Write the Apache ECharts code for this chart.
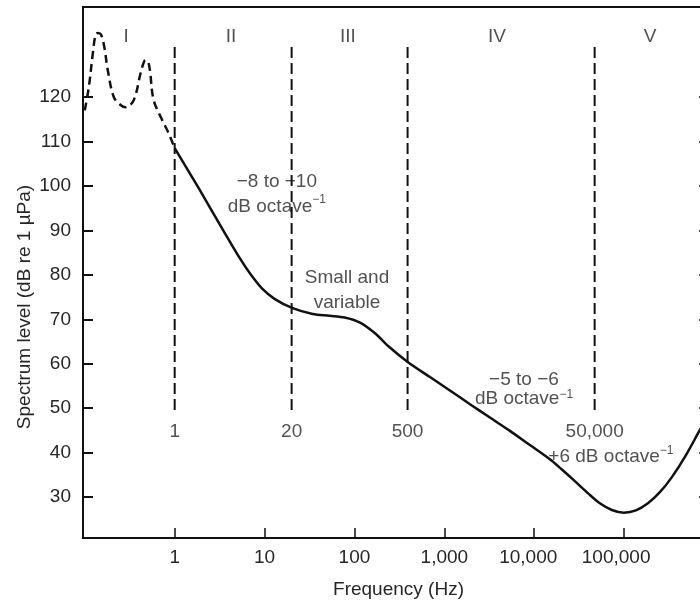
<!DOCTYPE html>
<html><head><meta charset="utf-8">
<script src="https://cdn.jsdelivr.net/npm/echarts@6/dist/echarts.min.js"></script>
<style>html,body{margin:0;padding:0;background:#fff}#c{width:700px;height:605px}</style>
</head><body><div id="c"></div>
<script>
// Region I (dashed) — frequency (Hz) and level (dB re 1 µPa)
const dashedFreq  = [0.1, 0.111, 0.123, 0.132, 0.14, 0.152, 0.165, 0.18, 0.21, 0.25, 0.285, 0.35, 0.418, 0.46, 0.49, 0.526, 0.58, 0.7, 0.85, 1];
const dashedLevel = [117, 122.3, 129.9, 134.1, 134.4, 134.0, 131.2, 126.1, 120, 118.2, 117.7, 119.3, 125.4, 128.1, 128.3, 126.5, 119.5, 115.5, 112, 108.5];
// Main spectrum (solid)
const solidFreq  = [1, 1.9, 3.16, 5.28, 6.83, 9.29, 12.9, 20.5, 34.3, 53, 77.8, 114, 168, 246,
  391, 692, 1153, 1928, 3215, 5370, 8950, 14930, 20300, 28300, 39500, 53700, 73100, 99500, 135300, 184000, 250000, 340000, 486000, 696000, 1000000];
const solidLevel = [108.5, 99.1, 91.4, 83.8, 80.4, 77.0, 74.6, 72.5, 71.2, 70.8, 70.4, 69.3, 66.9, 63.7,
  60.4, 57.0, 54.0, 50.9, 47.9, 44.9, 41.7, 38.5, 36.2, 33.6, 30.9, 28.6, 27.1, 26.5, 27.0, 28.6, 31.1, 34.5, 39.4, 45.1, 50.7];
// Axis ticks
const xTickValues = [1, 10, 100, 1000, 10000, 100000];
const yTickValues = [30, 40, 50, 60, 70, 80, 90, 100, 110, 120];
// Region boundaries (dashed verticals) and their labels
const boundaryFreq   = [1, 20, 390, 47000];
const boundaryLabels = ['1', '20', '500', '50,000'];
const boundaryTop = 131.25, boundaryBottom = 48.9;
// Region names
const regionNames = ['I', 'II', 'III', 'IV', 'V'];
const regionFreq  = [0.288, 4.23, 84.7, 3850, 194000];
const regionLevel = 133.5;
// Slope annotations
const noteTexts = ['{a|−8 to −10}\n{a|dB octave}{s|−1}', '{a|Small and}\n{a|variable}', '{b|−5 to −6}\n{b|dB octave}{t|−1}', '{a|+6 dB octave}{s|−1}'];
const noteFreq  = [13.7, 82.6, 7690, 71300];
const noteLevel = [98.2, 76.6, 54.3, 39.0];

const FONT = "'Liberation Sans', Arial, sans-serif";
const TXT = '#262626', LINE = '#111';

const chart = echarts.init(document.getElementById('c'), null, {renderer: 'canvas'});
const zip = (a, b) => a.map((v, i) => [v, b[i]]);

const annotationData = [];
regionNames.forEach((t, i) => annotationData.push({value: [regionFreq[i], regionLevel], label: {formatter: '{a|' + t + '}'}}));
boundaryLabels.forEach((t, i) => annotationData.push({value: [boundaryFreq[i], 44.65], label: {formatter: '{a|' + t + '}'}}));
noteTexts.forEach((t, i) => annotationData.push({value: [noteFreq[i], noteLevel[i]], label: {formatter: t}}));

const series = [
  {type: 'line', data: zip(dashedFreq, dashedLevel), smooth: 0.35, symbol: 'none', silent: true,
   lineStyle: {color: LINE, width: 2.5, type: [8, 5]}},
  {type: 'line', data: zip(solidFreq, solidLevel), smooth: 0.3, symbol: 'none', silent: true,
   lineStyle: {color: LINE, width: 2.5}}
];
boundaryFreq.forEach(f => series.push({type: 'line', symbol: 'none', silent: true,
  data: [[f, boundaryTop], [f, boundaryBottom]], lineStyle: {color: LINE, width: 2, type: [11, 5]}}));
series.push({type: 'scatter', symbolSize: 0, silent: true, data: annotationData,
  label: {show: true, position: 'inside', color: TXT, align: 'center', verticalAlign: 'middle',
    rich: {
      a: {fontFamily: FONT, fontSize: 19, color: TXT, lineHeight: 25},
      b: {fontFamily: FONT, fontSize: 19, color: TXT, lineHeight: 19},
      s: {fontFamily: FONT, fontSize: 12, color: TXT, lineHeight: 25, verticalAlign: 'top'},
      t: {fontFamily: FONT, fontSize: 12, color: TXT, lineHeight: 19, verticalAlign: 'top'}
    }}});

chart.setOption({
  animation: false,
  backgroundColor: '#fff',
  grid: {left: 83, width: 631, top: 7, bottom: 67, show: true, borderColor: LINE, borderWidth: 2,
    containLabel: false, outerBoundsMode: 'none'},
  xAxis: {type: 'log', logBase: 10, min: 0.0955, max: 1000000, splitNumber: 7,
    name: 'Frequency (Hz)', nameLocation: 'middle', nameGap: 42,
    nameTextStyle: {fontFamily: FONT, fontSize: 19, color: TXT},
    axisLine: {show: true, lineStyle: {color: LINE, width: 2}},
    axisTick: {show: true, inside: true, length: 10, customValues: xTickValues, lineStyle: {color: LINE, width: 1.5}},
    axisLabel: {customValues: xTickValues, margin: 10, fontFamily: FONT, fontSize: 19, color: TXT,
      formatter: v => {
        const n = Math.round(v);
        const s = n.toLocaleString('en-US');
        return n >= 100000 ? '{p|' + s + '}' : n >= 10000 ? '{q|' + s + '}' : s;
      },
      rich: {
        p: {fontFamily: FONT, fontSize: 19, color: TXT, padding: [0, 16, 0, 0]},
        q: {fontFamily: FONT, fontSize: 19, color: TXT, padding: [0, 12, 0, 0]}
      }},
    splitLine: {show: false}, minorTick: {show: false}},
  yAxis: [
    {type: 'value', min: 20.8, max: 140.25,
      axisLine: {show: true, lineStyle: {color: LINE, width: 2}},
      axisTick: {show: true, inside: true, length: 10, customValues: yTickValues, lineStyle: {color: LINE, width: 2}},
      axisLabel: {customValues: yTickValues, margin: 12, fontFamily: FONT, fontSize: 19, color: TXT},
      splitLine: {show: false}},
    {type: 'value', min: 20.8, max: 140.25, position: 'right',
      axisLine: {show: true, lineStyle: {color: LINE, width: 2}},
      axisTick: {show: true, inside: true, length: 15, customValues: yTickValues, lineStyle: {color: LINE, width: 1.5}},
      axisLabel: {show: false}, splitLine: {show: false}}
  ],
  graphic: [{type: 'text', x: 25, y: 307, rotation: Math.PI / 2,
    style: {text: 'Spectrum level (dB re 1 µPa)', font: '19px ' + FONT, fill: TXT, align: 'center', verticalAlign: 'middle'}}],
  series: series
});
</script></body></html>
